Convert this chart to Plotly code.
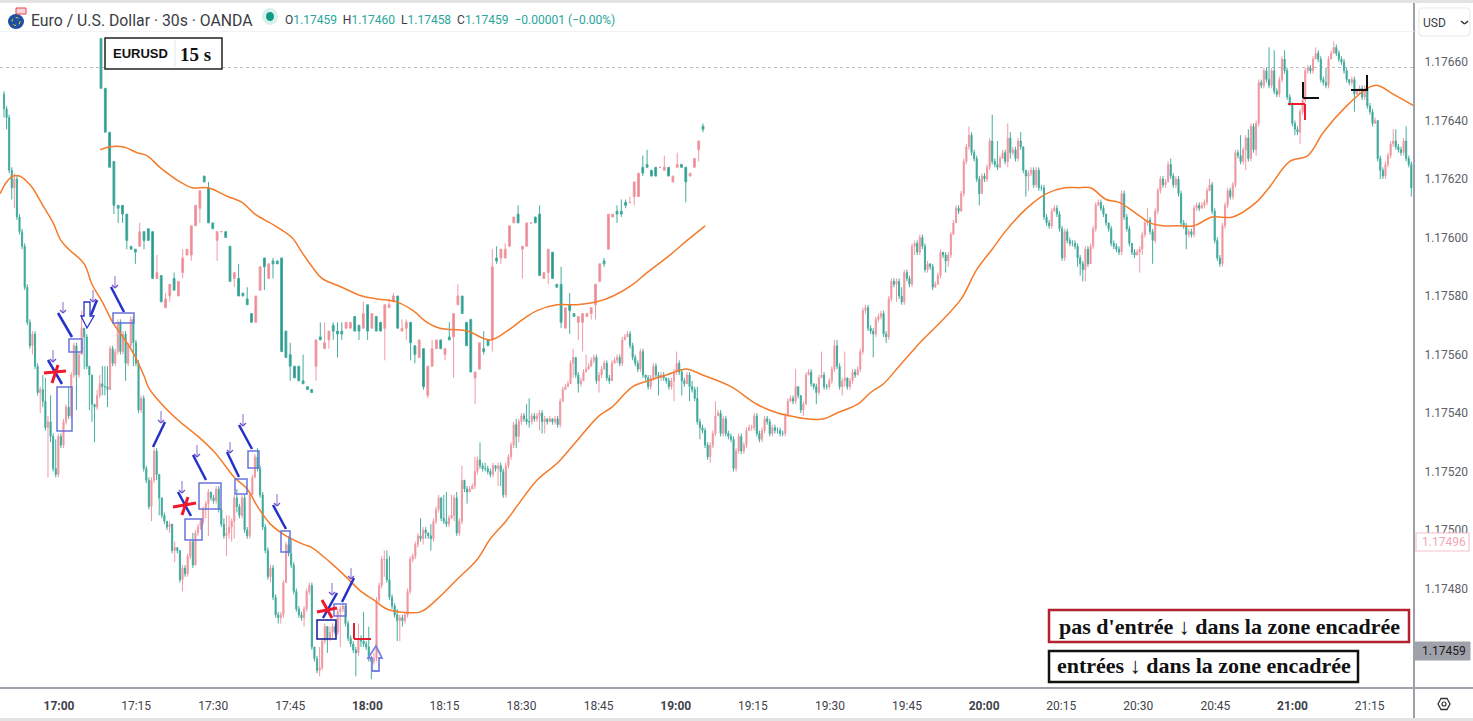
import plotly.graph_objects as go

W, H = 1473, 721
PLOT_R, PLOT_B = 1414, 688

# All prices are in 1e-5 steps above 1.17000 (660 = 1.17660)
lower_first_open = 649
lower_close = [
644,641,623,617,620,607,602,597,583,571,563,567,556,547,548,544,535,537,532,521,519,532,529,537,542,539,553,563,553,560,
569,566,556,553,543,542,546,550,549,549,548,562,557,561,571,561,567,557,563,572,564,557,541,545,521,517,508,517,527,519,
511,505,503,501,502,493,494,493,483,487,485,491,496,488,499,501,503,507,509,513,511,510,514,507,502,498,499,501,503,511,
508,505,511,500,498,512,518,525,521,512,501,493,484,487,477,471,470,471,482,495,492,488,479,473,471,470,473,479,481,460,
456,452,453,462,467,463,465,467,465,472,473,474,468,463,461,459,458,463,462,461,460,456,455,456,476,481,490,490,483,477,
474,471,469,470,469,471,479,490,491,495,498,497,500,499,498,497,503,507,511,504,503,502,504,505,511,499,503,517,514,513,
514,515,520,524,522,521,521,520,519,522,521,522,520,512,522,525,529,536,532,537,539,538,537,537,539,538,539,540,537,538,
537,538,537,538,536,544,548,549,550,557,559,553,550,551,554,555,556,558,559,551,553,555,557,552,551,557,558,559,557,565,
566,567,563,559,557,555,561,553,552,549,552,556,553,552,553,552,551,549,551,554,557,554,551,550,553,549,548,545,537,535,
534,529,525,529,533,539,540,533,538,533,532,531,521,527,532,527,529,534,535,535,539,533,531,534,538,537,533,535,534,534,
533,533,539,544,545,544,549,546,541,543,553,554,550,549,547,552,553,549,549,551,555,563,556,549,551,552,549,551,554,553,
555,561,575,576,569,568,567,572,573,574,567,566,579,585,584,585,580,578,588,586,584,597,598,595,600,597,589,591,590,583,
584,587,595,594,592,594,601,605,610,609,615,626,631,635,629,627,620,615,621,620,624,633,626,625,624,627,629,626,634,629,
630,627,633,631,623,621,622,623,618,623,617,617,607,605,604,609,610,608,603,593,602,599,598,598,597,593,591,589,596,591,
597,603,611,612,610,608,605,603,598,597,596,595,615,607,603,598,595,594,595,596,601,605,606,602,599,609,616,620,618,619,
625,621,618,620,615,605,604,601,602,601,610,611,610,611,612,616,618,609,599,593,591,604,611,616,614,618,629,628,626,630,
634,627,638,630,639,653,652,657,654,652,657,650,649,654,661,657,648,646,639,637,636,643,647,657,658,657,661,663,661,654,
653,652,661,663,665,663,661,660,657,654,653,654,649,650,651,648,651,645,643,639,640,627,623,621,625,628,632,633,631,630,
629,633,627,625,617]
lower_high = [
650,645,642,624,622,621,608,603,598,584,572,568,568,557,549,553,552,539,546,533,531,533,533,538,543,549,554,564,564,561,
575,567,567,554,545,543,548,553,556,556,556,563,563,562,572,572,568,568,564,573,573,565,558,546,546,522,518,518,528,528,
512,511,506,503,503,502,496,494,493,488,488,492,497,499,500,502,504,508,510,514,513,512,515,515,507,504,505,505,504,512,
514,509,512,512,501,513,519,526,528,522,513,502,494,488,488,478,472,472,483,496,498,497,489,480,474,472,474,480,482,482,
460,457,460,463,468,467,467,468,468,473,474,475,474,469,464,462,460,468,464,472,462,467,457,458,477,482,491,493,493,491,
478,475,473,471,471,472,480,491,492,496,499,504,501,501,499,502,504,508,512,511,512,513,505,512,512,513,504,522,515,515,
515,516,525,525,530,523,523,522,521,523,522,523,523,521,523,526,530,537,538,538,540,540,543,545,540,540,540,541,541,539,
538,539,538,539,539,545,549,550,551,558,562,559,554,552,555,560,557,559,560,560,554,556,558,558,553,558,559,560,560,566,
567,568,568,564,560,558,562,562,553,553,553,557,557,554,554,554,552,552,552,555,561,558,555,552,554,554,551,549,549,538,
536,535,530,530,534,544,541,541,539,539,534,533,532,528,533,533,530,535,536,536,540,540,534,535,539,539,538,536,536,535,
535,534,540,545,546,546,555,549,546,544,554,555,555,550,550,553,561,554,550,552,556,565,565,557,552,561,552,552,555,555,
556,562,576,577,577,570,569,573,574,575,575,568,580,586,586,586,586,583,589,589,587,598,599,599,601,601,598,592,591,591,
585,588,596,595,595,595,602,606,611,611,616,627,632,638,636,630,628,621,622,622,625,634,642,627,633,628,630,630,639,636,
631,631,634,636,631,623,623,624,624,624,624,618,618,608,606,610,611,611,609,604,603,603,600,599,599,598,594,592,597,597,
598,604,612,613,613,611,607,604,604,599,598,597,616,616,608,604,598,596,596,597,602,606,610,607,603,610,617,621,621,620,
626,627,622,621,621,616,606,605,603,603,611,612,612,612,613,617,620,619,610,600,594,605,612,617,617,619,630,630,635,631,
635,637,639,639,640,654,654,658,658,665,658,664,651,655,662,664,658,649,646,640,638,644,648,658,659,659,662,665,664,662,
655,658,662,664,667,666,664,662,661,658,654,655,655,651,652,652,652,652,646,644,641,640,628,624,626,629,633,637,637,632,
631,634,638,628,626]
lower_low = [
641,637,622,613,610,606,601,596,582,570,562,560,555,546,540,542,534,518,530,520,518,518,528,528,536,538,538,552,541,552,
560,555,555,541,537,530,541,545,546,546,542,548,556,556,560,560,560,551,556,562,556,556,540,540,520,516,507,503,516,517,
505,504,502,500,499,492,489,492,482,479,484,484,490,487,488,498,500,502,504,498,510,509,509,506,501,497,491,497,496,497,
506,504,504,499,497,497,512,518,520,511,500,492,483,482,476,470,468,468,470,482,491,487,478,472,470,469,467,472,478,459,
455,451,450,452,461,458,462,463,464,464,460,472,467,462,460,458,450,457,460,460,459,455,449,454,455,475,480,484,482,476,
473,470,462,462,467,468,470,478,489,490,494,496,495,497,497,493,496,502,506,503,502,501,501,504,503,498,498,502,513,509,
513,514,514,519,521,520,520,519,518,518,520,515,515,511,511,521,524,528,528,530,536,537,536,535,536,537,537,534,533,533,
536,537,536,536,535,535,544,548,549,550,552,552,547,549,551,554,555,556,557,550,547,552,555,551,550,551,557,557,556,556,
565,566,562,558,556,554,554,552,551,548,548,551,552,546,551,551,550,548,548,544,553,553,546,549,550,544,547,544,536,531,
533,528,524,523,528,532,539,532,532,532,531,530,520,520,526,526,526,528,534,534,534,532,530,530,533,536,532,532,533,533,
532,532,532,539,544,543,543,545,540,539,543,553,549,548,543,546,552,548,548,548,550,554,555,548,546,549,548,548,550,552,
554,554,560,574,568,567,559,566,571,572,566,564,565,578,583,578,579,577,577,585,583,583,594,594,594,596,588,588,589,582,
583,586,586,593,588,590,593,604,608,608,609,614,625,630,628,626,619,611,615,619,619,623,625,624,623,626,628,625,624,627,
628,626,626,630,622,614,616,621,617,617,616,616,606,604,603,603,609,607,602,592,592,598,597,597,596,590,587,585,585,590,
591,596,602,611,609,607,604,602,597,596,595,594,594,606,602,597,594,593,594,588,594,600,604,601,591,598,608,615,617,617,
624,620,617,617,614,604,603,596,600,600,600,609,609,610,610,611,616,608,598,592,590,590,603,610,613,613,617,627,625,625,
623,626,626,629,628,638,651,651,653,651,651,649,648,648,653,656,647,645,638,635,635,632,642,646,656,656,656,661,660,653,
652,651,651,661,663,662,660,659,656,653,652,652,643,649,649,647,647,644,642,638,639,626,620,620,620,624,627,631,630,629,
628,628,626,624,614]

upper_open = [
668,651,636,626,611,611,608,597,596,597, 602,603,602,586,587,576,580,586,580,588,
594,594,604,610,621,617,605,599,602,602, 597,586,586,581,579,574,571,582,593,586,
592,592,593,568,560,556,556,551,549,548, 556,566,562,565,570,568,568,569,569,573,
570,569,577,569,573,571,569,576,578,580, 568,569,571,563,559,562,546,556,562,565,
560,566,566,577,580,571,572,552,555,562, 565,565,593,593,593,597,605,608,596,597,
605,607,608,586,588,595,584,584,569,577, 574,571,571,573,574,577,585,592,596,607,
609,609,612,612,614,614,624,625,623,624, 624,623,624,619,624,625,624,621,624,630, 638]
upper_high = [
668,651,636,626,611,611,608,597,596,605, 602,603,602,594,587,581,584,588,585,596,
596,604,611,616,621,619,605,602,602,602, 597,588,591,581,583,574,580,590,593,591,
593,592,593,568,564,556,556,560,549,548, 565,571,571,568,571,571,571,571,571,573,
570,578,577,574,573,571,577,579,581,580, 572,572,571,563,565,562,556,565,565,565,
562,571,574,584,580,571,572,554,564,568, 565,596,597,596,598,604,607,611,597,605,
605,607,611,588,596,595,584,590,576,581, 574,573,574,574,576,584,591,593,608,608,
611,613,613,614,619,622,628,630,623,624, 624,628,624,621,629,625,624,622,627,633, 639]
upper_low = [
651,636,624,608,605,605,596,596,591,597, 596,599,586,586,578,576,578,582,580,586,
594,592,604,605,619,605,603,592,602,600, 585,583,580,580,577,571,571,582,582,586,
586,591,561,559,551,552,551,550,548,547, 551,565,562,562,565,559,565,569,569,568,
565,569,565,569,568,568,558,576,578,569, 568,565,558,557,559,548,545,556,562,562,
558,565,552,577,574,563,554,543,555,560, 563,561,591,591,593,597,605,605,586,597,
605,605,587,586,584,586,583,569,569,567, 573,565,561,573,572,572,585,590,596,607,
605,607,610,612,611,614,621,624,621,621, 624,623,621,619,624,624,612,621,624,626, 636]
upper_close = [
651,636,624,611,610,608,599,596,595,602, 599,599,586,588,578,579,584,582,585,593,
596,604,611,616,619,605,603,602,602,600, 585,588,580,580,577,571,580,590,590,591,
591,591,561,559,556,552,551,550,548,547, 565,565,564,568,568,567,567,571,571,568,
568,574,568,574,568,568,577,577,580,569, 569,571,564,560,565,549,556,562,565,562,
562,565,574,580,574,563,554,554,564,561, 563,590,592,596,596,604,607,605,597,605,
605,605,587,588,596,586,583,571,576,575, 573,573,574,574,576,584,591,591,608,608,
608,608,611,612,619,622,622,624,621,621, 624,624,621,621,625,624,619,622,627,633, 637]

lower_ma_bar = [-1.5,1,3.5,6,9,11,15,19,22,25,31,34,38,42,46,50,54,56,61,68,75,82,89,94,98,103,109,116,119,126,131,138,143,148,153,161,167,175,183,188,194,199,206,214,220,230,235,243,249,256,264,270,281,291,299,304,310,317,322,330,335,340,346,351,354,363,370,376,382,387,393,398,403,410,415,420,426,431,438,443,448,453,460,467,475,484,489,497,504,510,519,527,531,537,545]
lower_ma = [615,619,621,621,619,617,611,605,599,596,591,584,578,571,566,560.5,553,548.5,543,537,532,526,518,514,508,502,498,495,494,489,485,479,476,473,472,472,476,483,490,497,503,509,517,523,529,539,542,549,551,553,555,553,549,543,540,539,538,538,540,543,547,550,556,561,564,572,579,589,596,602,608,612,615,617,617,617,613,612,608,605,604,604,604,607,607,612,617,626,628,636,645,651,652,649,645]
upper_ma_bar = [-0.2,2.1,5.1,8.4,10.7,13.7,18.4,21.2,24.9,29.5,32.8,35.8,40.5,44.4,46.7,49.1,51.4,56,60.7,64.4,68.8,72.6,75.8,78.8,85.1,90.5,94.4,98.1,101.4,106,110.7,115.3,119.1,123.7,127,132.3,136.3,140.5]
upper_ma = [630,631,631,629,628,624,619,617,617,614,612,608,604,600,595,590,586,583,580,579,578,575,571,569,568,565,568,572,575,577,577,578,580,584,588,594,599,604]

time_labels = ["17:00","17:15","17:30","17:45","18:00","18:15","18:30","18:45","19:00","19:15","19:30","19:45","20:00","20:15","20:30","20:45","21:00","21:15"]
time_bold = {"17:00","18:00","19:00","20:00","21:00"}
tick_first_bar, tick_step_bars = 21.26, 29.8
price_ticks = [480,500,520,540,560,580,600,620,640,660]

for n, a, b in [("lh", lower_close, lower_high), ("ll", lower_close, lower_low),
                ("uo", upper_close, upper_open), ("uh", upper_close, upper_high), ("ul", upper_close, upper_low),
                ("lma", lower_ma, lower_ma_bar), ("uma", upper_ma, upper_ma_bar)]:
    assert len(a) == len(b), (n, len(a), len(b))

def price(v):
    return [1.17 + p / 1e5 for p in v]

lower_open = [lower_first_open] + lower_close[:-1]
lh = [max(h, o, c) for h, o, c in zip(lower_high, lower_open, lower_close)]
ll = [min(l, o, c) for l, o, c in zip(lower_low, lower_open, lower_close)]
uh = [max(h, o, c) for h, o, c in zip(upper_high, upper_open, upper_close)]
ul = [min(l, o, c) for l, o, c in zip(upper_low, upper_open, upper_close)]

PINK_LINE, PINK_FILL = "#f09aa3", "#ea8791"
TEAL_LINE, TEAL_FILL = "#45ad9f", "#23948a"
ORANGE = "#f47b2a"

def candles(x, o, h, l, c, xaxis):
    return go.Candlestick(
        x=x, open=price(o), high=price(h), low=price(l), close=price(c),
        xaxis=xaxis, yaxis="y", whiskerwidth=0, showlegend=False, hoverinfo="skip",
        increasing=dict(line=dict(color=PINK_LINE, width=1), fillcolor=PINK_FILL),
        decreasing=dict(line=dict(color=TEAL_LINE, width=1), fillcolor=TEAL_FILL),
    )

fig = go.Figure()
fig.add_trace(candles(list(range(len(lower_close))), lower_open, lh, ll, lower_close, "x"))
fig.add_trace(candles(list(range(len(upper_close))), upper_open, uh, ul, upper_close, "x2"))
fig.add_trace(go.Scatter(x=lower_ma_bar, y=price(lower_ma), mode="lines", xaxis="x", yaxis="y",
                         line=dict(color=ORANGE, width=1.5, shape="spline", smoothing=1.0),
                         showlegend=False, hoverinfo="skip"))
fig.add_trace(go.Scatter(x=upper_ma_bar, y=price(upper_ma), mode="lines", xaxis="x2", yaxis="y",
                         line=dict(color=ORANGE, width=1.5, shape="spline", smoothing=1.0),
                         showlegend=False, hoverinfo="skip"))

# ---- screen-space helpers for drawn decorations ----
def X(px): return px / PLOT_R
def Y(py): return 1 - py / PLOT_B
shapes, notes = [], []

def seg(x0, y0, x1, y1, color, width=2, dash=None, layer="above"):
    shapes.append(dict(type="line", xref="paper", yref="paper", x0=X(x0), y0=Y(y0), x1=X(x1), y1=Y(y1),
                       layer=layer, line=dict(color=color, width=width, dash=dash)))

def box(x0, y0, x1, y1, color, width=1.5, fill=None):
    shapes.append(dict(type="rect", xref="paper", yref="paper", x0=X(x0), y0=Y(y0), x1=X(x1), y1=Y(y1),
                       line=dict(color=color, width=width), fillcolor=fill if fill else "rgba(0,0,0,0)"))

def poly(points, color, width=1.5, fill=None):
    d = "M " + " L ".join(f"{X(a):.5f},{Y(b):.5f}" for a, b in points) + " Z"
    shapes.append(dict(type="path", xref="paper", yref="paper", path=d,
                       line=dict(color=color, width=width), fillcolor=fill if fill else "rgba(0,0,0,0)"))

def text(px, py, s, size=12, color="#222", family="Roboto", anchor="left"):
    notes.append(dict(xref="paper", yref="paper", x=X(px), y=Y(py), text=s, showarrow=False,
                      xanchor=anchor, yanchor="middle", align="left", borderpad=0, borderwidth=0,
                      font=dict(size=size, color=color, family=family)))

BLUE = "#2531c8"
BOXBLUE = "#6a74dc"
PURPLE = "#b39ddb"
RED = "#f0182c"

# frame lines
seg(PLOT_R, 0, PLOT_R, H, "#9ca0a8", 2)
seg(0, PLOT_B, W, PLOT_B, "#9ca0a8", 2)
seg(0, 1.5, W, 1.5, "#e3e3e3", 3)
seg(0, 31.5, PLOT_R, 31.5, "#f2f3f5", 1)
seg(0, 719.5, W, 719.5, "#e3e3e3", 3)

# dotted last-price line
seg(0, 67.5, PLOT_R, 67.5, "#b9bcc2", 1, "dot", "below")

# annotation arrows: diagonal strokes with their small purple arrows
diag = [(58,313,72,337),(48,360,62,384),(97,300,91,315),(111,287,124,312),(165,422,153,447),
        (193,455,206,480),(178,492,191,516),(227,452,239,477),(239,425,252,449),(273,505,286,529),
        (337,593,323,618),(354,578,342,602)]
small = [(63,302,313),(53,350,362),(93,290,302),(115,276,288),(161,411,423),(197,445,457),
         (182,481,493),(230,442,453),(243,414,426),(277,494,506),(332,583,595),(351,568,579)]
for a in diag:
    seg(*a, BLUE, 2.5)
for x, y0, y1 in small:
    seg(x, y0, x, y1, PURPLE, 1.5)
    seg(x-3, y1-3, x, y1, "#6f52c8", 1.2)
    seg(x+3, y1-3, x, y1, "#6f52c8", 1.2)

for b in [(69,339,82,352),(57,387,72,431),(113,313,134,323),(199,483,221,509),(185,519,202,540),
          (235,479,247,494),(248,451,259,468),(281,531,290,552),(334,604,346,616)]:
    box(*b, BOXBLUE, 1.5)
box(317,620,336,639,"#10189a",1.5)

# red stars
for a in [(44,373,66,371),(52,383,58,365),(173,507,196,503),(182,515,188,497),(317,612,337,608),(322,600,332,618)]:
    seg(*a, RED, 3)

# hollow arrows
poly([(84,302),(90,302),(90,316),(94,316),(87,328),(81,316),(84,316)], BLUE, 1.3)
poly([(376,646),(382,658),(379,658),(379,671),(372,671),(372,658),(368,658)], "#7b83e2", 1.8)

# red/black corner marks
seg(354,623,354,639,"#e0202c",2); seg(354,639,371,639,"#e0202c",2)
seg(1303,82,1303,98,"#111",2);    seg(1303,98,1319,98,"#111",2)
seg(1288,104,1305,104,"#ef1c2c",2); seg(1305,104,1305,120,"#ef1c2c",2)
seg(1351,90,1368,90,"#111",2);    seg(1367,75,1367,90,"#111",2)

# EURUSD badge
box(105,38,222,69,"#222",1.5,"#ffffff")
seg(175,40,175,67,"#e6e6e6",1)
text(113,53.5,"<b>EURUSD</b>",13,"#111","Liberation Sans")
text(180,54,"<b>15 s</b>",19,"#111","Liberation Serif")

# legend boxes
box(1049,610,1409,642,"#b5202f",2.5,"#ffffff")
text(1059,626,"<b>pas d'entrée ↓ dans la zone encadrée</b>",22,"#111","Liberation Serif")
box(1049,651,1358,682,"#111111",2.5,"#ffffff")
text(1057,665,"<b>entrées ↓ dans la zone encadrée</b>",22,"#111","Liberation Serif")

# header
shapes.append(dict(type="circle", xref="paper", yref="paper", x0=X(8), x1=X(24), y0=Y(29), y1=Y(14),
                   fillcolor="#1d4fa3", line=dict(width=0)))
shapes.append(dict(type="circle", xref="paper", yref="paper", x0=X(12), x1=X(20), y0=Y(25.5), y1=Y(17.5),
                   fillcolor="rgba(0,0,0,0)", line=dict(color="#f5d020", width=1, dash="dot")))
box(16,8,26,14,"#e8404a",1,"#f6d6d8")
shapes.append(dict(type="circle", xref="paper", yref="paper", x0=X(262), x1=X(278), y0=Y(25), y1=Y(8),
                   fillcolor="#d9f0ec", line=dict(width=0)))
shapes.append(dict(type="circle", xref="paper", yref="paper", x0=X(266), x1=X(274), y0=Y(21), y1=Y(12),
                   fillcolor="#0f9b85", line=dict(width=0)))
text(31,21,"Euro / U.S. Dollar · 30s · OANDA",15.8,"#3a3d45")
def v(s): return f"<span style='color:#26a69a'>{s}</span>"
text(285,20,f"O{v('1.17459')}  H{v('1.17460')}  L{v('1.17458')}  C{v('1.17459')}  {v('−0.00001 (−0.00%)')}",12,"#3a3d45")

# right-hand widgets
shapes.append(dict(type="path", xref="paper", yref="paper", line=dict(color="#ebebeb", width=1.2),
                   fillcolor="#ffffff",
                   path=f"M {X(1423)},{Y(8)} L {X(1466)},{Y(8)} Q {X(1470)},{Y(8)} {X(1470)},{Y(12)} L {X(1470)},{Y(32)} "
                        f"Q {X(1470)},{Y(36)} {X(1466)},{Y(36)} L {X(1423)},{Y(36)} Q {X(1419)},{Y(36)} {X(1419)},{Y(32)} "
                        f"L {X(1419)},{Y(12)} Q {X(1419)},{Y(8)} {X(1423)},{Y(8)} Z"))
text(1423,23,"USD",12,"#3a3d45")
seg(1461,21,1464.5,24,"#222",1.3); seg(1468,21,1464.5,24,"#222",1.3)
box(1416,533,1469,551,"#f7c4cd",1.2,"#ffffff")
text(1422,542,"1.17496",12,"#f4a5b5")
box(1415,642,1470,660,"#9fa2ab",1,"#9fa2ab")
text(1422,651,"1.17459",12,"#1c1c1c")
poly([(1438,704),(1441,698.5),(1447,698.5),(1450,704),(1447,709.5),(1441,709.5)],"#333",1.3)
shapes.append(dict(type="circle", xref="paper", yref="paper", x0=X(1442), x1=X(1446), y0=Y(706), y1=Y(702),
                   fillcolor="rgba(0,0,0,0)", line=dict(color="#333", width=1.2)))

tick_vals = [tick_first_bar + k * tick_step_bars for k in range(len(time_labels))]
tick_text = [f"<b>{t}</b>" if t in time_bold else t for t in time_labels]
BAR_PX, BAR2_PX = 2.587, 4.3

fig.update_layout(
    width=W, height=H, margin=dict(l=0, r=W-PLOT_R, t=0, b=H-PLOT_B, pad=0),
    paper_bgcolor="#ffffff", plot_bgcolor="#ffffff", showlegend=False,
    boxgap=0.4,
    xaxis=dict(range=[-4/BAR_PX, (PLOT_R-4)/BAR_PX], rangeslider=dict(visible=False), showgrid=False, zeroline=False,
               tickmode="array", tickvals=tick_vals, ticktext=tick_text, ticks="outside", ticklen=7, tickcolor="#ffffff",
               showline=False, tickfont=dict(size=12, color="#3f434c", family="Roboto")),
    xaxis2=dict(range=[-101/BAR2_PX, (PLOT_R-101)/BAR2_PX], overlaying="x", visible=False,
                rangeslider=dict(visible=False), showgrid=False, zeroline=False),
    yaxis=dict(range=[1.17 + 445.98/1e5, 1.17 + 681.2/1e5], side="right", showgrid=False, zeroline=False,
               tickmode="array", tickvals=price(price_ticks), tickformat=".5f", ticks="outside", ticklen=7, tickcolor="#ffffff",
               showline=False, tickfont=dict(size=12, color="#5c6068", family="Roboto")),
    shapes=shapes, annotations=notes,
)
fig.write_html("out.html", config={"displayModeBar": False},
               post_script="document.body.style.margin='0';document.body.style.overflow='hidden';")
